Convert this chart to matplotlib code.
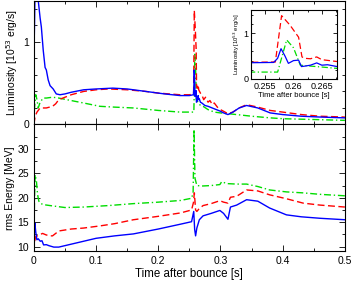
import matplotlib
matplotlib.use("Agg")
import matplotlib.pyplot as plt
from matplotlib.ticker import MultipleLocator

plt.rcParams['font.family'] = ['Liberation Sans', 'DejaVu Sans']

# ---- luminosity (10^53 erg/s) ----
t_lum_blue = [0, 0.001, 0.002, 0.003, 0.005, 0.007, 0.010, 0.012, 0.015, 0.018, 0.020,
              0.023, 0.026, 0.031, 0.036, 0.042, 0.05, 0.06, 0.08, 0.10, 0.127, 0.15,
              0.18, 0.21, 0.235, 0.25, 0.2565, 0.2572, 0.2578, 0.2585, 0.2591, 0.2600,
              0.2609, 0.2614, 0.262, 0.263, 0.2641, 0.265, 0.266, 0.2677, 0.27, 0.275,
              0.28, 0.29, 0.30, 0.305, 0.312, 0.32, 0.33, 0.342, 0.36, 0.38, 0.40,
              0.43, 0.46, 0.5]
lum_blue = [0.82, 1.2, 1.7, 1.8, 1.7, 1.5, 1.29, 1.18, 0.9, 0.69, 0.66,
            0.54, 0.47, 0.43, 0.37, 0.36, 0.37, 0.39, 0.42, 0.43, 0.44, 0.43,
            0.40, 0.37, 0.35, 0.35, 0.36, 0.45, 0.66, 0.5, 0.34, 0.40,
            0.41, 0.27, 0.28, 0.30, 0.35, 0.30, 0.31, 0.27, 0.26, 0.23,
            0.22, 0.19, 0.16, 0.14, 0.12, 0.15, 0.20, 0.23, 0.20, 0.14, 0.12,
            0.10, 0.09, 0.08]

t_lum_red = [0, 0.002, 0.005, 0.01, 0.02, 0.03, 0.035, 0.04, 0.05, 0.06, 0.08, 0.10,
             0.12, 0.15, 0.18, 0.2, 0.235, 0.25, 0.2568, 0.2579, 0.2594, 0.2609, 0.2615,
             0.262, 0.263, 0.2641, 0.265, 0.2677, 0.27, 0.273, 0.276, 0.28, 0.283,
             0.287, 0.29, 0.295, 0.30, 0.305, 0.312, 0.32, 0.33, 0.342, 0.36, 0.38,
             0.40, 0.43, 0.46, 0.5]
lum_red = [0, 0.1, 0.15, 0.2, 0.2, 0.22, 0.25, 0.3, 0.33, 0.36, 0.40, 0.42,
           0.43, 0.42, 0.40, 0.38, 0.36, 0.36, 0.37, 1.38, 1.17, 0.91, 0.48,
           0.45, 0.44, 0.48, 0.42, 0.38, 0.36, 0.30, 0.33, 0.27, 0.29,
           0.24, 0.26, 0.21, 0.18, 0.16, 0.13, 0.15, 0.20, 0.24, 0.21, 0.17,
           0.15, 0.12, 0.10, 0.09]

t_lum_green = [0, 0.001, 0.003, 0.005, 0.007, 0.01, 0.015, 0.02, 0.03, 0.04, 0.053,
               0.08, 0.106, 0.13, 0.16, 0.2, 0.235, 0.25, 0.2572, 0.2588, 0.2600,
               0.2612, 0.263, 0.265, 0.2677, 0.272, 0.28, 0.29, 0.30, 0.326, 0.35,
               0.38, 0.4, 0.45, 0.5]
lum_green = [0, 0.2, 0.36, 0.3, 0.2, 0.27, 0.32, 0.32, 0.33, 0.32, 0.3,
             0.26, 0.22, 0.21, 0.2, 0.17, 0.15, 0.15, 0.15, 0.85, 0.68,
             0.30, 0.28, 0.26, 0.23, 0.22, 0.18, 0.15, 0.14, 0.12, 0.10,
             0.08, 0.07, 0.06, 0.05]

# ---- rms energy (MeV) ----
t_e_blue = [0, 0.0016, 0.003, 0.0048, 0.007, 0.0102, 0.013, 0.0156, 0.02, 0.024, 0.032,
            0.04, 0.05, 0.07, 0.1, 0.13, 0.16, 0.2, 0.236, 0.2535, 0.257, 0.2585, 0.26,
            0.262, 0.266, 0.272, 0.285, 0.299, 0.305, 0.312, 0.316, 0.326, 0.342, 0.36,
            0.379, 0.406, 0.43, 0.46, 0.5]
e_blue = [11, 14.8, 13, 11.4, 11.6, 11.1, 11.2, 10.35, 10.4, 10.2, 9.9,
          9.9, 10.2, 10.8, 11.7, 12.2, 12.6, 13.6, 14.6, 15.1, 17.2, 13.5, 12.2,
          13.8, 15.5, 16.3, 16.8, 17.4, 16.8, 15.6, 18.1, 18.5, 19.6, 19.3,
          17.9, 16.5, 16.1, 15.8, 15.5]

t_e_red = [0, 0.001, 0.003, 0.0086, 0.014, 0.0196, 0.025, 0.03, 0.04, 0.06, 0.08, 0.107,
           0.13, 0.16, 0.2, 0.236, 0.2535, 0.2565, 0.258, 0.26, 0.262, 0.266, 0.272,
           0.285, 0.299, 0.305, 0.312, 0.316, 0.326, 0.342, 0.36, 0.379, 0.406, 0.433,
           0.46, 0.5]
e_red = [9, 11, 12.05, 12.4, 12.7, 12.4, 12.2, 12.2, 13.2, 13.6, 13.8, 14.25,
         14.7, 15.5, 16.2, 16.9, 17.5, 19.0, 21, 17.5, 17.2, 17.8, 18.4,
         18.8, 19.4, 19.1, 18.9, 20.1, 20.3, 21.6, 21.4, 20.6, 19.8, 18.9,
         18.5, 18.1]

t_e_green = [0, 0.001, 0.002, 0.004, 0.006, 0.008, 0.01, 0.015, 0.026, 0.05, 0.08, 0.12,
             0.16, 0.2, 0.236, 0.2535, 0.256, 0.2575, 0.259, 0.262, 0.27, 0.285, 0.299,
             0.302, 0.31, 0.326, 0.342, 0.36, 0.379, 0.406, 0.433, 0.46, 0.5]
e_green = [9, 20, 24.7, 23.5, 20.6, 19.3, 18.9, 18.6, 18.4, 18.0, 18.1, 18.4,
           18.8, 19.1, 19.45, 19.9, 21, 34, 24, 22.5, 22.4, 22.5, 22.7,
           23.3, 22.9, 22.8, 22.8, 22.3, 21.6, 21.2, 21.0, 20.7, 20.4]

BLUE = '#0000ff'
RED = '#ff0000'
GREEN = '#00dd00'
FS = 7.5


def style_axis(ax, size):
    ax.tick_params(which='both', direction='in', top=True, right=True, labelsize=size)
    ax.tick_params(which='major', length=4, width=0.6)
    ax.tick_params(which='minor', length=2, width=0.6)
    for s in ax.spines.values():
        s.set_linewidth(0.8)


def draw_lum(ax, lw):
    ax.plot(t_lum_green, lum_green, color=GREEN, lw=lw, dashes=[5, 2, 1, 2])
    ax.plot(t_lum_red, lum_red, color=RED, lw=lw, dashes=[5, 2.5])
    ax.plot(t_lum_blue, lum_blue, color=BLUE, lw=lw)


fig = plt.figure(figsize=(3.53, 2.81), dpi=100)
ax1 = fig.add_axes([0.096, 0.557, 0.881, 0.441])
ax2 = fig.add_axes([0.096, 0.105, 0.881, 0.452])

draw_lum(ax1, 1.0)
ax1.set_xlim(0, 0.5)
ax1.set_ylim(0, 1.5)
ax1.xaxis.set_major_locator(MultipleLocator(0.1))
ax1.xaxis.set_minor_locator(MultipleLocator(0.05))
ax1.yaxis.set_major_locator(MultipleLocator(1))
ax1.yaxis.set_minor_locator(MultipleLocator(0.2))
ax1.set_xticklabels([])
ax1.set_ylabel('Luminosity [10$^{53}$ erg/s]', fontsize=FS, labelpad=2)
style_axis(ax1, FS)

ax2.plot(t_e_green, e_green, color=GREEN, lw=1.0, dashes=[5, 2, 1, 2])
ax2.plot(t_e_red, e_red, color=RED, lw=1.0, dashes=[5, 2.5])
ax2.plot(t_e_blue, e_blue, color=BLUE, lw=1.0)
ax2.set_xlim(0, 0.5)
ax2.set_ylim(9, 35)
ax2.xaxis.set_major_locator(MultipleLocator(0.1))
ax2.xaxis.set_minor_locator(MultipleLocator(0.05))
ax2.yaxis.set_major_locator(MultipleLocator(5))
ax2.yaxis.set_minor_locator(MultipleLocator(2.5))
ax2.set_yticks([10, 15, 20, 25, 30])
ax2.set_xticks([0, 0.1, 0.2, 0.3, 0.4, 0.5])
ax2.set_xticklabels(['0', '0.1', '0.2', '0.3', '0.4', '0.5'])
ax2.set_xlabel('Time after bounce [s]', fontsize=8.3, labelpad=1)
ax2.set_ylabel('rms Energy [MeV]', fontsize=FS, labelpad=2)
style_axis(ax2, FS)
fig.align_ylabels([ax1, ax2])

# inset zoom on the luminosity spike
ax3 = fig.add_axes([0.711, 0.719, 0.244, 0.245])
draw_lum(ax3, 0.9)
ax3.set_xlim(0.2525, 0.2677)
ax3.set_ylim(0, 1.5)
ax3.set_xticks([0.255, 0.26, 0.265])
ax3.set_xticklabels(['0.255', '0.26', '0.265'])
ax3.xaxis.set_minor_locator(MultipleLocator(0.0025))
ax3.yaxis.set_major_locator(MultipleLocator(1))
ax3.yaxis.set_minor_locator(MultipleLocator(0.2))
ax3.set_xlabel('Time after bounce [s]', fontsize=5.5, labelpad=1)
ax3.set_ylabel('Luminosity [10$^{53}$ erg/s]', fontsize=4.2, labelpad=1)
style_axis(ax3, 6.5)
ax3.tick_params(which='major', length=3, pad=2)
ax3.tick_params(which='minor', length=1.5)

fig.savefig('out.png', dpi=100)
